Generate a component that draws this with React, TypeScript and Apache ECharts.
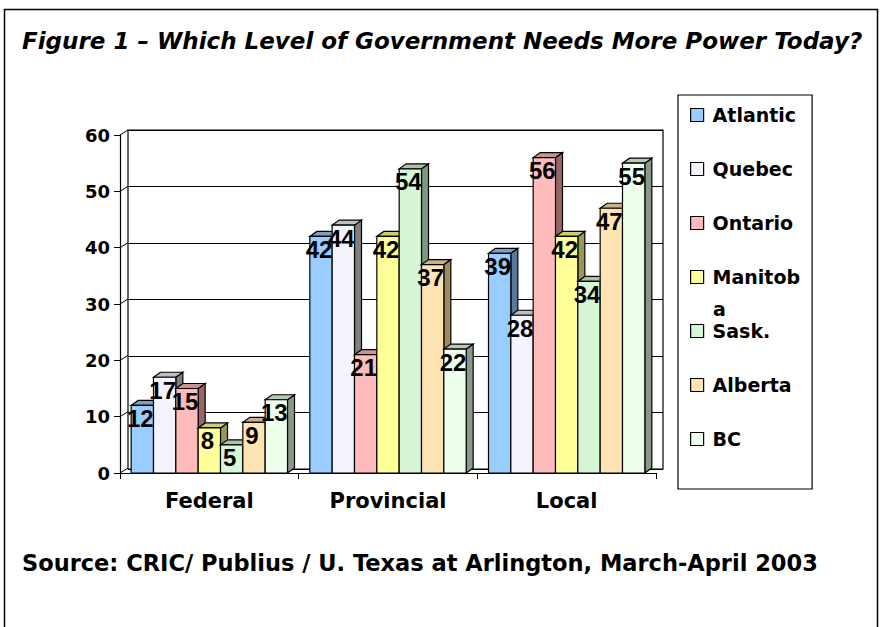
import React, { useEffect, useRef } from "react";
import * as echarts from "echarts";

const CATEGORIES = ["Federal", "Provincial", "Local"];
const SERIES_NAMES = ["Atlantic", "Quebec", "Ontario", "Manitoba", "Sask.", "Alberta", "BC"];
const ATLANTIC = [12, 42, 39];
const QUEBEC = [17, 44, 28];
const ONTARIO = [15, 21, 56];
const MANITOBA = [8, 42, 42];
const SASK = [5, 54, 34];
const ALBERTA = [9, 37, 47];
const BC = [13, 22, 55];
const SERIES_VALUES = [ATLANTIC, QUEBEC, ONTARIO, MANITOBA, SASK, ALBERTA, BC];
const Y_TICKS = [0, 10, 20, 30, 40, 50, 60];

const TITLE = "Figure 1 \u2013 Which Level of Government Needs More Power Today?";
const SOURCE = "Source: CRIC/ Publius / U. Texas at Arlington, March-April 2003";

// front, top, side colours
const COLORS = [
  ["#99CCFF", "#7C9FC6", "#5B7899"],
  ["#F3F3FC", "#BDBDC6", "#808080"],
  ["#FFBBBB", "#C99494", "#996666"],
  ["#FFFF99", "#CCCC77", "#999955"],
  ["#D6F6D6", "#A9C2A9", "#7E997E"],
  ["#FDE4B2", "#C9B189", "#A08A60"],
  ["#EEFFEE", "#B9C9B9", "#889988"],
];

const FONT = "DejaVu Sans";
const DX = 7;
const DY = 5;
const BAR_FRAC = 0.125;

export default function App() {
  const ref = useRef<HTMLDivElement>(null);
  useEffect(() => {
    if (!ref.current) return;
    const chart = echarts.init(ref.current, undefined, { renderer: "svg" });
    const nSeries = SERIES_NAMES.length;

    const barSeries = SERIES_NAMES.map((name, si) => ({
      type: "custom",
      name,
      xAxisIndex: 1,
      yAxisIndex: 1,
      itemStyle: { color: COLORS[si][0] },
      data: SERIES_VALUES[si].map((v, ci) => [ci, v]),
      renderItem: (params: any, api: any) => {
        const ci = api.value(0);
        const val = api.value(1);
        const base = api.coord([ci, 0]);
        const top = api.coord([ci, val]);
        const catW = api.size([1, 0])[0];
        const bw = catW * BAR_FRAC;
        const x0 = base[0] - (bw * nSeries) / 2 + si * bw;
        const yTop = top[1];
        const yBase = base[1];
        const stroke = { stroke: "#000", lineWidth: 1.2 };
        return {
          type: "group",
          children: [
            {
              type: "polygon",
              shape: {
                points: [
                  [x0 + bw, yTop],
                  [x0 + bw + DX, yTop - DY],
                  [x0 + bw + DX, yBase - DY],
                  [x0 + bw, yBase],
                ],
              },
              style: { fill: COLORS[si][2], ...stroke },
            },
            {
              type: "polygon",
              shape: {
                points: [
                  [x0, yTop],
                  [x0 + bw, yTop],
                  [x0 + bw + DX, yTop - DY],
                  [x0 + DX, yTop - DY],
                ],
              },
              style: { fill: COLORS[si][1], ...stroke },
            },
            {
              type: "rect",
              shape: { x: x0, y: yTop, width: bw, height: yBase - yTop },
              style: { fill: COLORS[si][0], ...stroke },
            },
            {
              type: "text",
              z2: 100,
              style: {
                text: String(val),
                x: x0 + bw / 2 - 2,
                y: yTop + 13,
                align: "center",
                verticalAlign: "middle",
                font: "bold 24px 'Liberation Sans'",
                fill: "#000",
              },
            },
          ],
        };
      },
    }));

    const wallSeries = {
      type: "custom",
      name: "wall",
      xAxisIndex: 1,
      yAxisIndex: 1,
      silent: true,
      data: Y_TICKS.map((t) => [0, t]),
      renderItem: (params: any, api: any) => {
        const p = api.coord([0, api.value(1)]);
        const x = params.coordSys.x;
        return {
          type: "line",
          shape: { x1: x, y1: p[1], x2: x + 8, y2: p[1] - 5 },
          style: { stroke: "#000", lineWidth: 1 },
        };
      },
    };

    const option: any = {
      animation: false,
      backgroundColor: "#fff",
      title: [
        {
          text: TITLE,
          left: 17,
          top: 24,
          textStyle: { fontFamily: FONT, fontSize: 23, fontWeight: "bold", fontStyle: "italic", color: "#000" },
        },
        {
          text: SOURCE,
          left: 17,
          top: 546,
          textStyle: { fontFamily: FONT, fontSize: 22.5, fontWeight: "bold", color: "#000" },
        },
      ],
      legend: {
        orient: "vertical",
        left: 678,
        top: 95,
        padding: [10, 12, 40, 12],
        borderColor: "#000",
        borderWidth: 1.2,
        itemGap: 34,
        itemWidth: 13,
        itemHeight: 13,
        icon: "rect",
        itemStyle: { borderColor: "#000", borderWidth: 1.2 },
        textStyle: { fontFamily: FONT, fontSize: 19, fontWeight: "bold", color: "#000", lineHeight: 20, padding: [0, 0, 0, 4] },
        formatter: (n: string) => (n === "Manitoba" ? "Manitob" : n),
        data: SERIES_NAMES,
      },
      grid: [
        { left: 128, top: 130, width: 535, height: 339, show: true, borderColor: "#000", borderWidth: 1.2, backgroundColor: "#fff", z: 0 },
        { left: 120, top: 135, width: 536, height: 338 },
      ],
      xAxis: [
        { gridIndex: 0, type: "category", data: CATEGORIES, show: false },
        {
          gridIndex: 1,
          type: "category",
          data: CATEGORIES,
          axisLine: { lineStyle: { color: "#000", width: 1.2 } },
          axisTick: { show: true, length: 6, lineStyle: { color: "#000" } },
          axisLabel: { fontFamily: FONT, fontSize: 21, fontWeight: "bold", color: "#000", margin: 17 },
        },
      ],
      yAxis: [
        {
          gridIndex: 0,
          type: "value",
          min: 0,
          max: 60,
          interval: 10,
          axisLine: { show: false },
          axisTick: { show: false },
          axisLabel: { show: false },
          splitLine: { show: true, lineStyle: { color: "#000", width: 1.2 } },
        },
        {
          gridIndex: 1,
          type: "value",
          min: 0,
          max: 60,
          interval: 10,
          axisLine: { show: true, lineStyle: { color: "#000", width: 1.2 } },
          axisTick: { show: true, length: 6, lineStyle: { color: "#000" } },
          axisLabel: { fontFamily: FONT, fontSize: 18, fontWeight: "bold", color: "#000", margin: 10 },
          splitLine: { show: false },
        },
      ],
      graphic: [
        {
          type: "rect",
          silent: true,
          shape: { x: 4.5, y: 9.5, width: 873, height: 640 },
          style: { fill: "none", stroke: "#000", lineWidth: 1.5 },
        },
        {
          type: "text",
          left: 713,
          top: 299,
          style: { text: "a", font: `bold 19px '${FONT}'`, fill: "#000" },
        },
      ],
      series: [wallSeries, ...barSeries],
    };
    chart.setOption(option);
    return () => chart.dispose();
  }, []);
  return <div ref={ref} style={{ position: "absolute", left: 0, top: 0, width: 885, height: 627 }} />;
}
